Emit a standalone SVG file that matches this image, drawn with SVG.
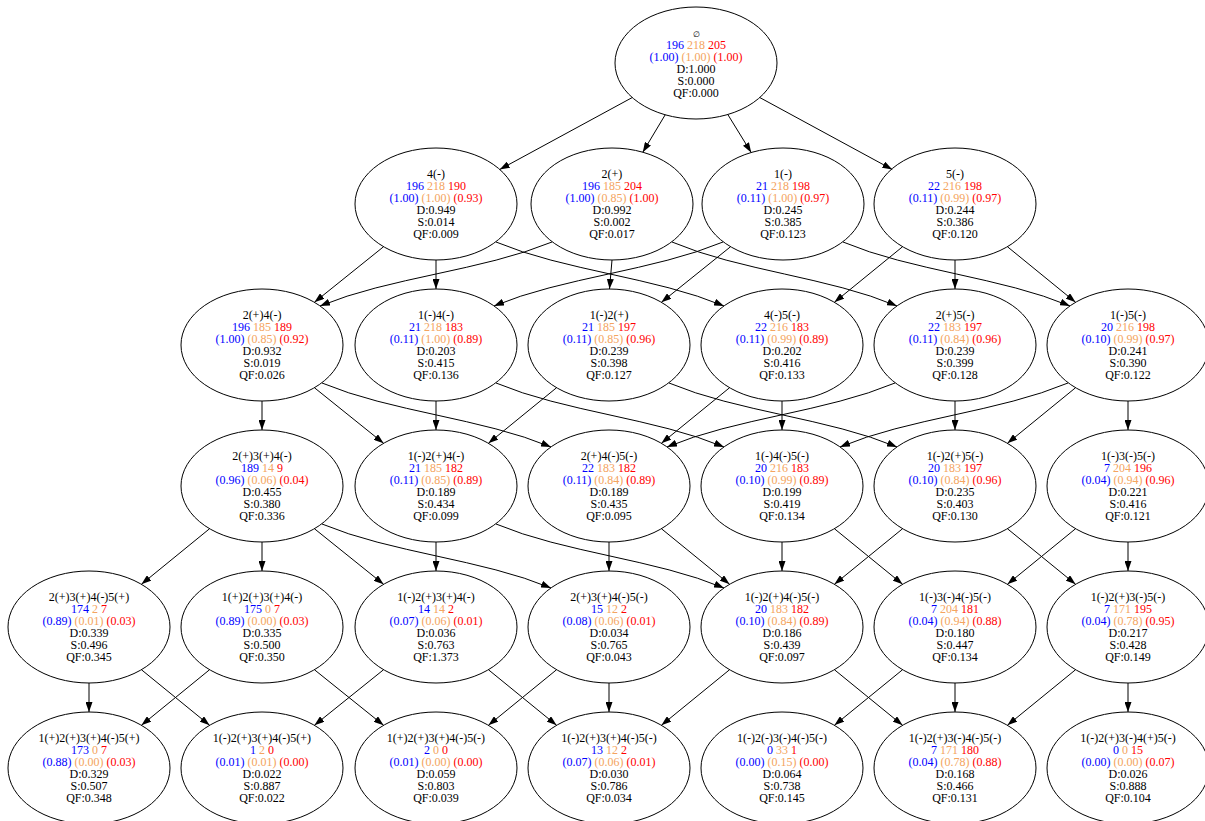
<svg xmlns="http://www.w3.org/2000/svg" width="1205" height="821" viewBox="0 0 1205 821">
<defs>
<marker id="ah" markerWidth="10" markerHeight="7" refX="10" refY="3.5" orient="auto" markerUnits="userSpaceOnUse"><path d="M0,0 L10,3.5 L0,7 z" fill="#000"/></marker>
<style>
.n ellipse{fill:none;stroke:#000;stroke-width:1}
text{font-family:"Liberation Serif","Times New Roman",serif;font-size:12px;text-anchor:middle;fill:#000}
.b{fill:#0000ff}.o{fill:#f4a460}.r{fill:#ff0000}
.empty{font-size:8px}
#edges path{fill:none;stroke:#000;stroke-width:1;marker-end:url(#ah)}
</style>
</defs>
<rect width="1205" height="821" fill="#fff"/>
<g id="edges">
<path d="M632.3,97.5 L499.7,169.5"/>
<path d="M665.2,114.8 L642.8,152.2"/>
<path d="M727.8,114.5 L751.2,152.5"/>
<path d="M759.7,97.5 L892.3,169.5"/>
<path d="M383.6,246.7 L314.4,302.3"/>
<path d="M436,260 L436,289"/>
<path d="M496,242 C564.4,270.8 655.6,277.2 724,306"/>
<path d="M552,242 C482.4,270.8 389.6,277.2 320,306"/>
<path d="M612,260 L609.5,289"/>
<path d="M672,242 C739.5,270.8 829.5,277.2 897,306"/>
<path d="M723,242 C654.3,270.8 562.7,277.2 494,306"/>
<path d="M730.6,246.7 L661.4,302.3"/>
<path d="M843,242 C911.1,270.8 1001.9,277.2 1070,306"/>
<path d="M902.6,246.7 L834.4,302.3"/>
<path d="M955,260 L955,289"/>
<path d="M1007.4,246.7 L1075.6,302.3"/>
<path d="M262,401 L262,430"/>
<path d="M314.4,387.7 L383.6,443.3"/>
<path d="M322,383 C390.7,411.8 482.3,418.2 551,447"/>
<path d="M436,401 L436,430"/>
<path d="M496,383 C564.4,411.8 655.6,418.2 724,447"/>
<path d="M556.6,387.7 L488.4,443.3"/>
<path d="M669,383 C737.4,411.8 828.6,418.2 897,447"/>
<path d="M729.6,387.7 L661.4,443.3"/>
<path d="M782,401 L782,430"/>
<path d="M895,383 C826.6,411.8 735.4,418.2 667,447"/>
<path d="M955,401 L955,430"/>
<path d="M1068,383 C999.6,411.8 908.4,418.2 840,447"/>
<path d="M1075.6,387.7 L1007.4,443.3"/>
<path d="M1128,401 L1128,430"/>
<path d="M209.6,528.7 L141.4,584.3"/>
<path d="M262,542 L262,571"/>
<path d="M314.4,528.7 L383.6,584.3"/>
<path d="M322,524 C390.7,552.8 482.3,559.2 551,588"/>
<path d="M436,542 L436,571"/>
<path d="M496,524 C564.4,552.8 655.6,559.2 724,588"/>
<path d="M609,542 L609,571"/>
<path d="M661.4,528.7 L729.6,584.3"/>
<path d="M782,542 L782,571"/>
<path d="M834.4,528.7 L902.6,584.3"/>
<path d="M902.6,528.7 L834.4,584.3"/>
<path d="M1007.4,528.7 L1075.6,584.3"/>
<path d="M1075.6,528.7 L1007.4,584.3"/>
<path d="M1128,542 L1128,571"/>
<path d="M89,683 L89,712"/>
<path d="M141.4,669.7 L209.6,725.3"/>
<path d="M209.6,669.7 L141.4,725.3"/>
<path d="M314.4,669.7 L383.6,725.3"/>
<path d="M383.6,669.7 L314.4,725.3"/>
<path d="M488.4,669.7 L556.6,725.3"/>
<path d="M556.6,669.7 L488.4,725.3"/>
<path d="M609,683 L609,712"/>
<path d="M729.6,669.7 L661.4,725.3"/>
<path d="M834.4,669.7 L902.6,725.3"/>
<path d="M902.6,669.7 L834.4,725.3"/>
<path d="M955,683 L955,712"/>
<path d="M1075.6,669.7 L1007.4,725.3"/>
<path d="M1128,683 L1128,712"/>
</g>
<g id="n_root" class="n"><ellipse cx="696" cy="63" rx="81" ry="56"/><text x="696" y="37.3"><tspan class="empty">∅</tspan><tspan x="696" dy="11.9"><tspan class="b">196</tspan> <tspan class="o">218</tspan> <tspan class="r">205</tspan></tspan><tspan x="696" dy="11.9"><tspan class="b">(1.00)</tspan> <tspan class="o">(1.00)</tspan> <tspan class="r">(1.00)</tspan></tspan><tspan x="696" dy="11.9">D:1.000</tspan><tspan x="696" dy="11.9">S:0.000</tspan><tspan x="696" dy="11.9">QF:0.000</tspan></text></g>
<g id="n_4m" class="n"><ellipse cx="436" cy="204" rx="81" ry="56"/><text x="436" y="178.3">4(-)<tspan x="436" dy="11.9"><tspan class="b">196</tspan> <tspan class="o">218</tspan> <tspan class="r">190</tspan></tspan><tspan x="436" dy="11.9"><tspan class="b">(1.00)</tspan> <tspan class="o">(1.00)</tspan> <tspan class="r">(0.93)</tspan></tspan><tspan x="436" dy="11.9">D:0.949</tspan><tspan x="436" dy="11.9">S:0.014</tspan><tspan x="436" dy="11.9">QF:0.009</tspan></text></g>
<g id="n_2p" class="n"><ellipse cx="612" cy="204" rx="81" ry="56"/><text x="612" y="178.3">2(+)<tspan x="612" dy="11.9"><tspan class="b">196</tspan> <tspan class="o">185</tspan> <tspan class="r">204</tspan></tspan><tspan x="612" dy="11.9"><tspan class="b">(1.00)</tspan> <tspan class="o">(0.85)</tspan> <tspan class="r">(1.00)</tspan></tspan><tspan x="612" dy="11.9">D:0.992</tspan><tspan x="612" dy="11.9">S:0.002</tspan><tspan x="612" dy="11.9">QF:0.017</tspan></text></g>
<g id="n_1m" class="n"><ellipse cx="783" cy="204" rx="81" ry="56"/><text x="783" y="178.3">1(-)<tspan x="783" dy="11.9"><tspan class="b">21</tspan> <tspan class="o">218</tspan> <tspan class="r">198</tspan></tspan><tspan x="783" dy="11.9"><tspan class="b">(0.11)</tspan> <tspan class="o">(1.00)</tspan> <tspan class="r">(0.97)</tspan></tspan><tspan x="783" dy="11.9">D:0.245</tspan><tspan x="783" dy="11.9">S:0.385</tspan><tspan x="783" dy="11.9">QF:0.123</tspan></text></g>
<g id="n_5m" class="n"><ellipse cx="955" cy="204" rx="81" ry="56"/><text x="955" y="178.3">5(-)<tspan x="955" dy="11.9"><tspan class="b">22</tspan> <tspan class="o">216</tspan> <tspan class="r">198</tspan></tspan><tspan x="955" dy="11.9"><tspan class="b">(0.11)</tspan> <tspan class="o">(0.99)</tspan> <tspan class="r">(0.97)</tspan></tspan><tspan x="955" dy="11.9">D:0.244</tspan><tspan x="955" dy="11.9">S:0.386</tspan><tspan x="955" dy="11.9">QF:0.120</tspan></text></g>
<g id="n_2p4m" class="n"><ellipse cx="262" cy="345" rx="81" ry="56"/><text x="262" y="319.3">2(+)4(-)<tspan x="262" dy="11.9"><tspan class="b">196</tspan> <tspan class="o">185</tspan> <tspan class="r">189</tspan></tspan><tspan x="262" dy="11.9"><tspan class="b">(1.00)</tspan> <tspan class="o">(0.85)</tspan> <tspan class="r">(0.92)</tspan></tspan><tspan x="262" dy="11.9">D:0.932</tspan><tspan x="262" dy="11.9">S:0.019</tspan><tspan x="262" dy="11.9">QF:0.026</tspan></text></g>
<g id="n_1m4m" class="n"><ellipse cx="436" cy="345" rx="81" ry="56"/><text x="436" y="319.3">1(-)4(-)<tspan x="436" dy="11.9"><tspan class="b">21</tspan> <tspan class="o">218</tspan> <tspan class="r">183</tspan></tspan><tspan x="436" dy="11.9"><tspan class="b">(0.11)</tspan> <tspan class="o">(1.00)</tspan> <tspan class="r">(0.89)</tspan></tspan><tspan x="436" dy="11.9">D:0.203</tspan><tspan x="436" dy="11.9">S:0.415</tspan><tspan x="436" dy="11.9">QF:0.136</tspan></text></g>
<g id="n_1m2p" class="n"><ellipse cx="609" cy="345" rx="81" ry="56"/><text x="609" y="319.3">1(-)2(+)<tspan x="609" dy="11.9"><tspan class="b">21</tspan> <tspan class="o">185</tspan> <tspan class="r">197</tspan></tspan><tspan x="609" dy="11.9"><tspan class="b">(0.11)</tspan> <tspan class="o">(0.85)</tspan> <tspan class="r">(0.96)</tspan></tspan><tspan x="609" dy="11.9">D:0.239</tspan><tspan x="609" dy="11.9">S:0.398</tspan><tspan x="609" dy="11.9">QF:0.127</tspan></text></g>
<g id="n_4m5m" class="n"><ellipse cx="782" cy="345" rx="81" ry="56"/><text x="782" y="319.3">4(-)5(-)<tspan x="782" dy="11.9"><tspan class="b">22</tspan> <tspan class="o">216</tspan> <tspan class="r">183</tspan></tspan><tspan x="782" dy="11.9"><tspan class="b">(0.11)</tspan> <tspan class="o">(0.99)</tspan> <tspan class="r">(0.89)</tspan></tspan><tspan x="782" dy="11.9">D:0.202</tspan><tspan x="782" dy="11.9">S:0.416</tspan><tspan x="782" dy="11.9">QF:0.133</tspan></text></g>
<g id="n_2p5m" class="n"><ellipse cx="955" cy="345" rx="81" ry="56"/><text x="955" y="319.3">2(+)5(-)<tspan x="955" dy="11.9"><tspan class="b">22</tspan> <tspan class="o">183</tspan> <tspan class="r">197</tspan></tspan><tspan x="955" dy="11.9"><tspan class="b">(0.11)</tspan> <tspan class="o">(0.84)</tspan> <tspan class="r">(0.96)</tspan></tspan><tspan x="955" dy="11.9">D:0.239</tspan><tspan x="955" dy="11.9">S:0.399</tspan><tspan x="955" dy="11.9">QF:0.128</tspan></text></g>
<g id="n_1m5m" class="n"><ellipse cx="1128" cy="345" rx="81" ry="56"/><text x="1128" y="319.3">1(-)5(-)<tspan x="1128" dy="11.9"><tspan class="b">20</tspan> <tspan class="o">216</tspan> <tspan class="r">198</tspan></tspan><tspan x="1128" dy="11.9"><tspan class="b">(0.10)</tspan> <tspan class="o">(0.99)</tspan> <tspan class="r">(0.97)</tspan></tspan><tspan x="1128" dy="11.9">D:0.241</tspan><tspan x="1128" dy="11.9">S:0.390</tspan><tspan x="1128" dy="11.9">QF:0.122</tspan></text></g>
<g id="n_2p3p4m" class="n"><ellipse cx="262" cy="486" rx="81" ry="56"/><text x="262" y="460.3">2(+)3(+)4(-)<tspan x="262" dy="11.9"><tspan class="b">189</tspan> <tspan class="o">14</tspan> <tspan class="r">9</tspan></tspan><tspan x="262" dy="11.9"><tspan class="b">(0.96)</tspan> <tspan class="o">(0.06)</tspan> <tspan class="r">(0.04)</tspan></tspan><tspan x="262" dy="11.9">D:0.455</tspan><tspan x="262" dy="11.9">S:0.380</tspan><tspan x="262" dy="11.9">QF:0.336</tspan></text></g>
<g id="n_1m2p4m" class="n"><ellipse cx="436" cy="486" rx="81" ry="56"/><text x="436" y="460.3">1(-)2(+)4(-)<tspan x="436" dy="11.9"><tspan class="b">21</tspan> <tspan class="o">185</tspan> <tspan class="r">182</tspan></tspan><tspan x="436" dy="11.9"><tspan class="b">(0.11)</tspan> <tspan class="o">(0.85)</tspan> <tspan class="r">(0.89)</tspan></tspan><tspan x="436" dy="11.9">D:0.189</tspan><tspan x="436" dy="11.9">S:0.434</tspan><tspan x="436" dy="11.9">QF:0.099</tspan></text></g>
<g id="n_2p4m5m" class="n"><ellipse cx="609" cy="486" rx="81" ry="56"/><text x="609" y="460.3">2(+)4(-)5(-)<tspan x="609" dy="11.9"><tspan class="b">22</tspan> <tspan class="o">183</tspan> <tspan class="r">182</tspan></tspan><tspan x="609" dy="11.9"><tspan class="b">(0.11)</tspan> <tspan class="o">(0.84)</tspan> <tspan class="r">(0.89)</tspan></tspan><tspan x="609" dy="11.9">D:0.189</tspan><tspan x="609" dy="11.9">S:0.435</tspan><tspan x="609" dy="11.9">QF:0.095</tspan></text></g>
<g id="n_1m4m5m" class="n"><ellipse cx="782" cy="486" rx="81" ry="56"/><text x="782" y="460.3">1(-)4(-)5(-)<tspan x="782" dy="11.9"><tspan class="b">20</tspan> <tspan class="o">216</tspan> <tspan class="r">183</tspan></tspan><tspan x="782" dy="11.9"><tspan class="b">(0.10)</tspan> <tspan class="o">(0.99)</tspan> <tspan class="r">(0.89)</tspan></tspan><tspan x="782" dy="11.9">D:0.199</tspan><tspan x="782" dy="11.9">S:0.419</tspan><tspan x="782" dy="11.9">QF:0.134</tspan></text></g>
<g id="n_1m2p5m" class="n"><ellipse cx="955" cy="486" rx="81" ry="56"/><text x="955" y="460.3">1(-)2(+)5(-)<tspan x="955" dy="11.9"><tspan class="b">20</tspan> <tspan class="o">183</tspan> <tspan class="r">197</tspan></tspan><tspan x="955" dy="11.9"><tspan class="b">(0.10)</tspan> <tspan class="o">(0.84)</tspan> <tspan class="r">(0.96)</tspan></tspan><tspan x="955" dy="11.9">D:0.235</tspan><tspan x="955" dy="11.9">S:0.403</tspan><tspan x="955" dy="11.9">QF:0.130</tspan></text></g>
<g id="n_1m3m5m" class="n"><ellipse cx="1128" cy="486" rx="81" ry="56"/><text x="1128" y="460.3">1(-)3(-)5(-)<tspan x="1128" dy="11.9"><tspan class="b">7</tspan> <tspan class="o">204</tspan> <tspan class="r">196</tspan></tspan><tspan x="1128" dy="11.9"><tspan class="b">(0.04)</tspan> <tspan class="o">(0.94)</tspan> <tspan class="r">(0.96)</tspan></tspan><tspan x="1128" dy="11.9">D:0.221</tspan><tspan x="1128" dy="11.9">S:0.416</tspan><tspan x="1128" dy="11.9">QF:0.121</tspan></text></g>
<g id="n_2p3p4m5p" class="n"><ellipse cx="89" cy="627" rx="81" ry="56"/><text x="89" y="601.3">2(+)3(+)4(-)5(+)<tspan x="89" dy="11.9"><tspan class="b">174</tspan> <tspan class="o">2</tspan> <tspan class="r">7</tspan></tspan><tspan x="89" dy="11.9"><tspan class="b">(0.89)</tspan> <tspan class="o">(0.01)</tspan> <tspan class="r">(0.03)</tspan></tspan><tspan x="89" dy="11.9">D:0.339</tspan><tspan x="89" dy="11.9">S:0.496</tspan><tspan x="89" dy="11.9">QF:0.345</tspan></text></g>
<g id="n_1p2p3p4m" class="n"><ellipse cx="262" cy="627" rx="81" ry="56"/><text x="262" y="601.3">1(+)2(+)3(+)4(-)<tspan x="262" dy="11.9"><tspan class="b">175</tspan> <tspan class="o">0</tspan> <tspan class="r">7</tspan></tspan><tspan x="262" dy="11.9"><tspan class="b">(0.89)</tspan> <tspan class="o">(0.00)</tspan> <tspan class="r">(0.03)</tspan></tspan><tspan x="262" dy="11.9">D:0.335</tspan><tspan x="262" dy="11.9">S:0.500</tspan><tspan x="262" dy="11.9">QF:0.350</tspan></text></g>
<g id="n_1m2p3p4m" class="n"><ellipse cx="436" cy="627" rx="81" ry="56"/><text x="436" y="601.3">1(-)2(+)3(+)4(-)<tspan x="436" dy="11.9"><tspan class="b">14</tspan> <tspan class="o">14</tspan> <tspan class="r">2</tspan></tspan><tspan x="436" dy="11.9"><tspan class="b">(0.07)</tspan> <tspan class="o">(0.06)</tspan> <tspan class="r">(0.01)</tspan></tspan><tspan x="436" dy="11.9">D:0.036</tspan><tspan x="436" dy="11.9">S:0.763</tspan><tspan x="436" dy="11.9">QF:1.373</tspan></text></g>
<g id="n_2p3p4m5m" class="n"><ellipse cx="609" cy="627" rx="81" ry="56"/><text x="609" y="601.3">2(+)3(+)4(-)5(-)<tspan x="609" dy="11.9"><tspan class="b">15</tspan> <tspan class="o">12</tspan> <tspan class="r">2</tspan></tspan><tspan x="609" dy="11.9"><tspan class="b">(0.08)</tspan> <tspan class="o">(0.06)</tspan> <tspan class="r">(0.01)</tspan></tspan><tspan x="609" dy="11.9">D:0.034</tspan><tspan x="609" dy="11.9">S:0.765</tspan><tspan x="609" dy="11.9">QF:0.043</tspan></text></g>
<g id="n_1m2p4m5m" class="n"><ellipse cx="782" cy="627" rx="81" ry="56"/><text x="782" y="601.3">1(-)2(+)4(-)5(-)<tspan x="782" dy="11.9"><tspan class="b">20</tspan> <tspan class="o">183</tspan> <tspan class="r">182</tspan></tspan><tspan x="782" dy="11.9"><tspan class="b">(0.10)</tspan> <tspan class="o">(0.84)</tspan> <tspan class="r">(0.89)</tspan></tspan><tspan x="782" dy="11.9">D:0.186</tspan><tspan x="782" dy="11.9">S:0.439</tspan><tspan x="782" dy="11.9">QF:0.097</tspan></text></g>
<g id="n_1m3m4m5m" class="n"><ellipse cx="955" cy="627" rx="81" ry="56"/><text x="955" y="601.3">1(-)3(-)4(-)5(-)<tspan x="955" dy="11.9"><tspan class="b">7</tspan> <tspan class="o">204</tspan> <tspan class="r">181</tspan></tspan><tspan x="955" dy="11.9"><tspan class="b">(0.04)</tspan> <tspan class="o">(0.94)</tspan> <tspan class="r">(0.88)</tspan></tspan><tspan x="955" dy="11.9">D:0.180</tspan><tspan x="955" dy="11.9">S:0.447</tspan><tspan x="955" dy="11.9">QF:0.134</tspan></text></g>
<g id="n_1m2p3m5m" class="n"><ellipse cx="1128" cy="627" rx="81" ry="56"/><text x="1128" y="601.3">1(-)2(+)3(-)5(-)<tspan x="1128" dy="11.9"><tspan class="b">7</tspan> <tspan class="o">171</tspan> <tspan class="r">195</tspan></tspan><tspan x="1128" dy="11.9"><tspan class="b">(0.04)</tspan> <tspan class="o">(0.78)</tspan> <tspan class="r">(0.95)</tspan></tspan><tspan x="1128" dy="11.9">D:0.217</tspan><tspan x="1128" dy="11.9">S:0.428</tspan><tspan x="1128" dy="11.9">QF:0.149</tspan></text></g>
<g id="n_1p2p3p4m5p" class="n"><ellipse cx="89" cy="768" rx="81" ry="56"/><text x="89" y="742.3">1(+)2(+)3(+)4(-)5(+)<tspan x="89" dy="11.9"><tspan class="b">173</tspan> <tspan class="o">0</tspan> <tspan class="r">7</tspan></tspan><tspan x="89" dy="11.9"><tspan class="b">(0.88)</tspan> <tspan class="o">(0.00)</tspan> <tspan class="r">(0.03)</tspan></tspan><tspan x="89" dy="11.9">D:0.329</tspan><tspan x="89" dy="11.9">S:0.507</tspan><tspan x="89" dy="11.9">QF:0.348</tspan></text></g>
<g id="n_1m2p3p4m5p" class="n"><ellipse cx="262" cy="768" rx="81" ry="56"/><text x="262" y="742.3">1(-)2(+)3(+)4(-)5(+)<tspan x="262" dy="11.9"><tspan class="b">1</tspan> <tspan class="o">2</tspan> <tspan class="r">0</tspan></tspan><tspan x="262" dy="11.9"><tspan class="b">(0.01)</tspan> <tspan class="o">(0.01)</tspan> <tspan class="r">(0.00)</tspan></tspan><tspan x="262" dy="11.9">D:0.022</tspan><tspan x="262" dy="11.9">S:0.887</tspan><tspan x="262" dy="11.9">QF:0.022</tspan></text></g>
<g id="n_1p2p3p4m5m" class="n"><ellipse cx="436" cy="768" rx="81" ry="56"/><text x="436" y="742.3">1(+)2(+)3(+)4(-)5(-)<tspan x="436" dy="11.9"><tspan class="b">2</tspan> <tspan class="o">0</tspan> <tspan class="r">0</tspan></tspan><tspan x="436" dy="11.9"><tspan class="b">(0.01)</tspan> <tspan class="o">(0.00)</tspan> <tspan class="r">(0.00)</tspan></tspan><tspan x="436" dy="11.9">D:0.059</tspan><tspan x="436" dy="11.9">S:0.803</tspan><tspan x="436" dy="11.9">QF:0.039</tspan></text></g>
<g id="n_1m2p3p4m5m" class="n"><ellipse cx="609" cy="768" rx="81" ry="56"/><text x="609" y="742.3">1(-)2(+)3(+)4(-)5(-)<tspan x="609" dy="11.9"><tspan class="b">13</tspan> <tspan class="o">12</tspan> <tspan class="r">2</tspan></tspan><tspan x="609" dy="11.9"><tspan class="b">(0.07)</tspan> <tspan class="o">(0.06)</tspan> <tspan class="r">(0.01)</tspan></tspan><tspan x="609" dy="11.9">D:0.030</tspan><tspan x="609" dy="11.9">S:0.786</tspan><tspan x="609" dy="11.9">QF:0.034</tspan></text></g>
<g id="n_1m2m3m4m5m" class="n"><ellipse cx="782" cy="768" rx="81" ry="56"/><text x="782" y="742.3">1(-)2(-)3(-)4(-)5(-)<tspan x="782" dy="11.9"><tspan class="b">0</tspan> <tspan class="o">33</tspan> <tspan class="r">1</tspan></tspan><tspan x="782" dy="11.9"><tspan class="b">(0.00)</tspan> <tspan class="o">(0.15)</tspan> <tspan class="r">(0.00)</tspan></tspan><tspan x="782" dy="11.9">D:0.064</tspan><tspan x="782" dy="11.9">S:0.738</tspan><tspan x="782" dy="11.9">QF:0.145</tspan></text></g>
<g id="n_1m2p3m4m5m" class="n"><ellipse cx="955" cy="768" rx="81" ry="56"/><text x="955" y="742.3">1(-)2(+)3(-)4(-)5(-)<tspan x="955" dy="11.9"><tspan class="b">7</tspan> <tspan class="o">171</tspan> <tspan class="r">180</tspan></tspan><tspan x="955" dy="11.9"><tspan class="b">(0.04)</tspan> <tspan class="o">(0.78)</tspan> <tspan class="r">(0.88)</tspan></tspan><tspan x="955" dy="11.9">D:0.168</tspan><tspan x="955" dy="11.9">S:0.466</tspan><tspan x="955" dy="11.9">QF:0.131</tspan></text></g>
<g id="n_1m2p3m4p5m" class="n"><ellipse cx="1128" cy="768" rx="81" ry="56"/><text x="1128" y="742.3">1(-)2(+)3(-)4(+)5(-)<tspan x="1128" dy="11.9"><tspan class="b">0</tspan> <tspan class="o">0</tspan> <tspan class="r">15</tspan></tspan><tspan x="1128" dy="11.9"><tspan class="b">(0.00)</tspan> <tspan class="o">(0.00)</tspan> <tspan class="r">(0.07)</tspan></tspan><tspan x="1128" dy="11.9">D:0.026</tspan><tspan x="1128" dy="11.9">S:0.888</tspan><tspan x="1128" dy="11.9">QF:0.104</tspan></text></g>
</svg>
